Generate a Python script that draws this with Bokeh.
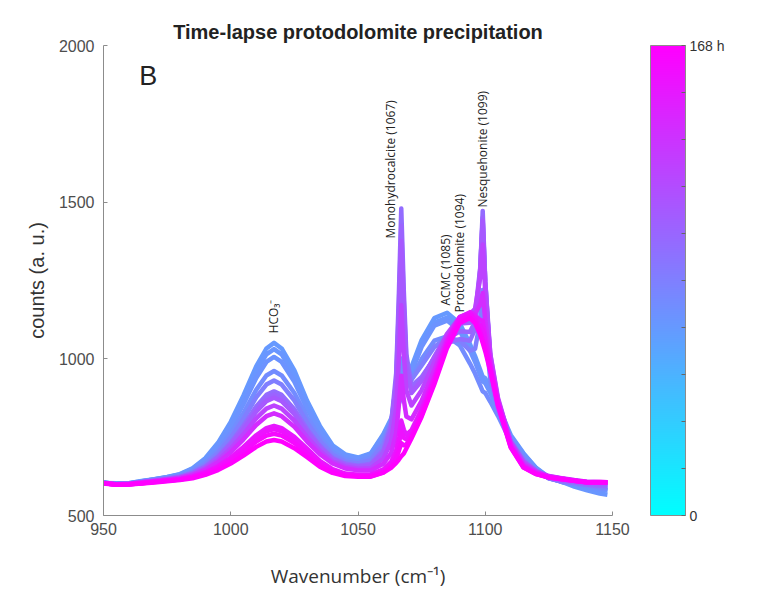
import math
from bokeh.plotting import figure
from bokeh.models import (ColumnDataSource, LinearColorMapper, ColorBar, FixedTicker,
                          Label, Range1d)
from bokeh.transform import linear_cmap
from bokeh.embed import file_html
from bokeh.resources import INLINE

# ---------------- data ----------------
wavenumber = [950, 955, 960, 965, 970, 975, 980, 985, 990, 995, 1000, 1005, 1010, 1014, 1017,
              1020, 1025, 1030, 1035, 1040, 1045, 1050, 1055, 1060, 1063, 1065, 1066, 1067, 1068,
              1069, 1071, 1075, 1080, 1085, 1090, 1094, 1096, 1098, 1099, 1100, 1102, 1105, 1110,
              1115, 1120, 1125, 1130, 1135, 1140, 1145, 1148]

hours = [67, 69, 71, 76, 84, 97, 102, 109, 124, 139, 151, 156, 161, 168]

spec_01 = [604, 603, 603, 610, 616, 623, 632, 651, 683, 732, 799, 883, 976, 1033, 1051, 1033, 963,
           866, 786, 724, 695, 685, 698, 760, 809, 847, 869, 891, 908, 930, 974, 1060, 1130, 1147,
           1113, 1047, 1009, 965, 943, 938, 905, 852, 757, 699, 652, 622, 608, 600, 591, 583, 581]
spec_02 = [604, 601, 603, 609, 616, 622, 631, 649, 679, 727, 791, 872, 960, 1014, 1031, 1014, 947,
           855, 778, 719, 692, 682, 696, 756, 804, 841, 862, 883, 899, 920, 963, 1047, 1116, 1132,
           1099, 1035, 998, 955, 934, 929, 897, 845, 752, 696, 651, 621, 608, 592, 580, 570, 566]
spec_03 = [605, 600, 601, 609, 615, 621, 630, 647, 675, 720, 780, 855, 939, 990, 1006, 990, 927,
           840, 768, 713, 688, 679, 693, 752, 799, 835, 856, 877, 894, 915, 956, 1038, 1106, 1122,
           1090, 1026, 990, 948, 928, 922, 891, 840, 749, 694, 649, 620, 607, 599, 591, 582, 580]
spec_04 = [605, 600, 602, 608, 614, 619, 627, 642, 668, 707, 761, 827, 901, 947, 961, 947, 891,
           814, 750, 701, 679, 671, 684, 740, 793, 855, 922, 1001, 956, 927, 934, 999, 1058, 1072,
           1043, 985, 953, 915, 896, 891, 863, 818, 735, 685, 644, 619, 608, 601, 594, 587, 585]
spec_05 = [605, 600, 602, 607, 613, 618, 625, 639, 662, 699, 748, 808, 877, 918, 931, 918, 867,
           797, 738, 693, 672, 666, 676, 728, 798, 919, 1080, 1278, 1111, 986, 933, 979, 1038, 1068,
           1058, 1026, 1032, 1120, 1220, 1092, 932, 838, 736, 680, 643, 619, 608, 603, 597, 590, 589]
spec_06 = [604, 600, 601, 606, 612, 617, 623, 636, 656, 689, 733, 787, 848, 885, 896, 885, 839,
           776, 724, 684, 666, 659, 665, 710, 790, 954, 1189, 1480, 1217, 1015, 913, 942, 1002, 1050,
           1063, 1058, 1095, 1281, 1472, 1248, 985, 851, 731, 672, 639, 619, 610, 605, 599, 595, 594]
spec_07 = [604, 600, 601, 606, 611, 616, 622, 635, 655, 686, 729, 781, 839, 875, 886, 875, 831,
           771, 720, 682, 663, 657, 663, 703, 779, 932, 1153, 1424, 1181, 994, 902, 936, 1004, 1064,
           1088, 1086, 1118, 1282, 1451, 1244, 997, 860, 735, 673, 641, 623, 614, 609, 603, 599, 599]
spec_08 = [604, 600, 601, 606, 611, 616, 622, 634, 653, 683, 724, 774, 831, 865, 876, 865, 823,
           765, 716, 679, 661, 655, 660, 699, 769, 914, 1121, 1376, 1148, 974, 891, 930, 1007, 1078,
           1113, 1115, 1143, 1288, 1440, 1247, 1012, 870, 737, 673, 642, 624, 617, 611, 606, 603, 603]
spec_09 = [604, 600, 601, 606, 610, 615, 620, 631, 649, 676, 713, 759, 810, 841, 851, 841, 803,
           750, 706, 672, 656, 649, 651, 682, 735, 841, 989, 1171, 1015, 899, 851, 900, 989, 1080,
           1133, 1143, 1160, 1259, 1365, 1211, 1015, 875, 735, 669, 641, 626, 619, 613, 608, 606, 606]
spec_10 = [603, 599, 600, 605, 609, 614, 619, 629, 645, 669, 702, 743, 789, 817, 826, 817, 783,
           736, 696, 666, 650, 644, 644, 665, 699, 763, 846, 946, 869, 816, 807, 866, 964, 1067,
           1134, 1146, 1145, 1173, 1210, 1122, 994, 867, 729, 663, 638, 625, 618, 612, 607, 607, 606]
spec_11 = [603, 599, 600, 604, 608, 612, 616, 625, 638, 658, 685, 719, 756, 779, 786, 779, 751,
           713, 674, 648, 634, 630, 631, 647, 671, 708, 752, 803, 774, 758, 772, 839, 943, 1056,
           1133, 1149, 1138, 1124, 1121, 1071, 982, 861, 723, 658, 635, 623, 618, 611, 606, 605, 605]
spec_12 = [603, 599, 600, 603, 608, 612, 615, 623, 636, 655, 681, 713, 748, 769, 776, 769, 743,
           707, 670, 645, 631, 629, 628, 644, 664, 695, 728, 768, 748, 743, 762, 828, 934, 1050,
           1128, 1144, 1130, 1105, 1090, 1051, 973, 858, 722, 656, 634, 622, 617, 611, 605, 606, 605]
spec_13 = [603, 599, 600, 603, 607, 611, 615, 622, 634, 651, 675, 703, 736, 755, 761, 755, 731,
           698, 664, 641, 629, 626, 625, 638, 657, 681, 705, 731, 724, 727, 752, 819, 926, 1043,
           1124, 1140, 1124, 1086, 1059, 1032, 967, 854, 719, 654, 632, 622, 616, 611, 606, 606, 605]
spec_14 = [602, 598, 599, 602, 605, 609, 613, 619, 630, 645, 666, 691, 719, 736, 741, 736, 715,
           686, 656, 636, 626, 624, 624, 637, 652, 668, 678, 689, 698, 714, 746, 815, 919, 1035,
           1114, 1130, 1114, 1077, 1051, 1024, 960, 849, 717, 653, 632, 621, 616, 611, 606, 607, 606]

spectra = [spec_01, spec_02, spec_03, spec_04, spec_05, spec_06, spec_07, spec_08, spec_09,
           spec_10, spec_11, spec_12, spec_13, spec_14]

x_ticks = [950, 1000, 1050, 1100, 1150]
y_ticks = [500, 1000, 1500, 2000]
time_max = 168

peak_names = ["HCO\u2083\u207b", "Monohydrocalcite (1067)", "ACMC (1085)",
              "Protodolomite (1094)", "Nesquehonite (1099)"]
peak_pos = [1016.8, 1062.8, 1084.4, 1089.9, 1098.9]
peak_label_base = [1081, 1384, 1170, 1148, 1483]

# ---------------- colormap (MATLAB "cool") ----------------
cool = ["#%02x%02xff" % (i, 255 - i) for i in range(256)]

# ---------------- figure ----------------
p = figure(width=760, height=593, x_range=Range1d(950, 1150), y_range=Range1d(500, 2000),
           output_backend="svg", toolbar_location=None,
           min_border_left=103, min_border_right=148, min_border_top=45, min_border_bottom=78)
p.outline_line_color = None
p.grid.visible = False
p.background_fill_color = "white"
p.border_fill_color = "white"

p.title.text = "Time-lapse protodolomite precipitation"
p.title.align = "center"
p.title.text_font = "Liberation Sans"
p.title.text_font_size = "20px"
p.title.text_font_style = "bold"
p.title.text_color = "#222222"
p.title.standoff = 5

for ax in (p.xaxis[0], p.yaxis[0]):
    ax.axis_line_color = "#8c8c8c"
    ax.major_tick_line_color = "#8c8c8c"
    ax.major_tick_in = 4
    ax.major_tick_out = 0
    ax.minor_tick_line_color = None
    ax.major_label_text_font = "Liberation Sans"
    ax.major_label_text_font_size = "16px"
    ax.major_label_text_color = "#4d4d4d"
    ax.axis_label_text_font_style = "normal"
    ax.axis_label_text_color = "#333333"

p.xaxis.ticker = FixedTicker(ticks=x_ticks)
p.yaxis.ticker = FixedTicker(ticks=y_ticks)
p.xaxis.major_label_standoff = 7
p.yaxis.major_label_standoff = 9
p.xaxis.axis_label = "Wavenumber (cm\u207b\u00b9)"
p.xaxis.axis_label_text_font = "Open Sans"
p.xaxis.axis_label_text_font_size = "19px"
p.xaxis.axis_label_standoff = 25
p.yaxis.axis_label = "counts (a. u.)"
p.yaxis.axis_label_text_font = "Liberation Sans"
p.yaxis.axis_label_text_font_size = "20px"
p.yaxis.axis_label_standoff = 8

src = ColumnDataSource(dict(xs=[wavenumber] * len(spectra), ys=spectra, t=hours))
p.multi_line("xs", "ys", source=src, line_width=4.5, line_join="round",
             line_color=linear_cmap("t", cool, 0, time_max))

mapper = LinearColorMapper(palette=cool, low=0, high=time_max)
cb = ColorBar(color_mapper=mapper, width=35, height=470, location=(38, 0), padding=0, margin=0,
              ticker=FixedTicker(ticks=[0, time_max],
                                 minor_ticks=[time_max * i / 10 for i in range(11)]),
              major_label_overrides={time_max: "168 h"},
              major_tick_in=0, major_tick_out=0, minor_tick_in=4, minor_tick_out=0,
              minor_tick_line_color="#666666",
              bar_line_color="#8c8c8c", border_line_color=None, background_fill_alpha=0,
              major_label_text_font="Liberation Sans", major_label_text_font_size="14px",
              major_label_text_color="#333333", label_standoff=4)
p.add_layout(cb, "right")

p.add_layout(Label(x=964, y=1904, text="B", text_font="Liberation Sans", text_font_size="27px",
                   text_color="#222222", text_baseline="middle", text_align="left"))

for name, xp, yb in zip(peak_names, peak_pos, peak_label_base):
    p.add_layout(Label(x=xp, y=yb, text=name, angle=math.pi / 2, text_align="left",
                       text_baseline="middle", text_font="Open Sans", text_font_size="12px",
                       text_color="#222222"))

open("out.html", "w").write(file_html(p, INLINE))
